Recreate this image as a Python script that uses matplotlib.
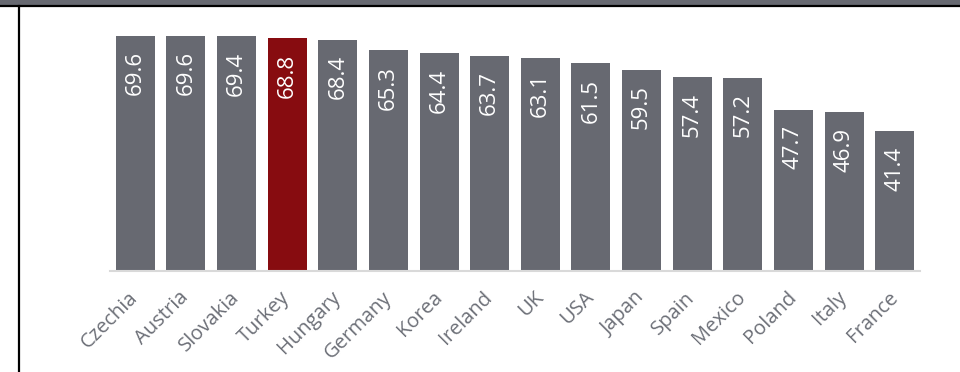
import matplotlib
matplotlib.use("Agg")
import matplotlib.pyplot as plt
from matplotlib.patches import Rectangle
from matplotlib.lines import Line2D

countries = ["Czechia", "Austria", "Slovakia", "Turkey", "Hungary", "Germany",
             "Korea", "Ireland", "UK", "USA", "Japan", "Spain", "Mexico",
             "Poland", "Italy", "France"]
values = [69.6, 69.6, 69.4, 68.8, 68.4, 65.3, 64.4, 63.7, 63.1, 61.5,
          59.5, 57.4, 57.2, 47.7, 46.9, 41.4]
highlight = "Turkey"

GREY = "#676971"
RED = "#870c10"
LABEL = "#6c6f77"


def main():
	plt.rcParams['font.family'] = ['Open Sans', 'DejaVu Sans']

	fig = plt.figure(figsize=(9.6, 3.72), dpi=100)
	W, H = 960, 372

	# frame: dark band on top, black rule under it and on the left
	fig.patches.append(Rectangle((0, 1 - 5 / H), 1, 5 / H, transform=fig.transFigure,
								 facecolor=GREY, edgecolor="none"))
	fig.add_artist(Line2D([0, 1], [1 - 5.5 / H] * 2, transform=fig.transFigure,
						  color="black", lw=1.6))
	fig.add_artist(Line2D([18.5 / W] * 2, [0, 1 - 5.5 / H], transform=fig.transFigure,
						  color="black", lw=1.6))

	ax = fig.add_axes([110 / W, 101 / H, 810 / W, 251 / H])
	x = list(range(len(countries)))
	colors = [RED if c == highlight else GREY for c in countries]
	ax.bar(x, values, width=0.77, color=colors)

	for xi, v in zip(x, values):
		ax.text(xi, v - 4.6, f"{v:.1f}", rotation=90, ha="center", va="top",
				color="white", fontsize=16)

	ax.set_xlim(-0.5, len(countries) - 0.5)
	ax.set_ylim(0, 251 / 3.38)
	ax.set_yticks([])
	ax.set_xticks(x)
	ax.set_xticklabels(countries, rotation=45, ha="right", va="center",
					   rotation_mode="anchor", color=LABEL, fontsize=14.5)
	ax.tick_params(axis="x", length=0, pad=17)
	for s in ["top", "right", "left"]:
		ax.spines[s].set_visible(False)
	ax.spines["bottom"].set_color("#d9d9d9")
	ax.spines["bottom"].set_linewidth(1.5)

	fig.savefig("out.png", dpi=100)

if __name__ == "__main__":
	main()
